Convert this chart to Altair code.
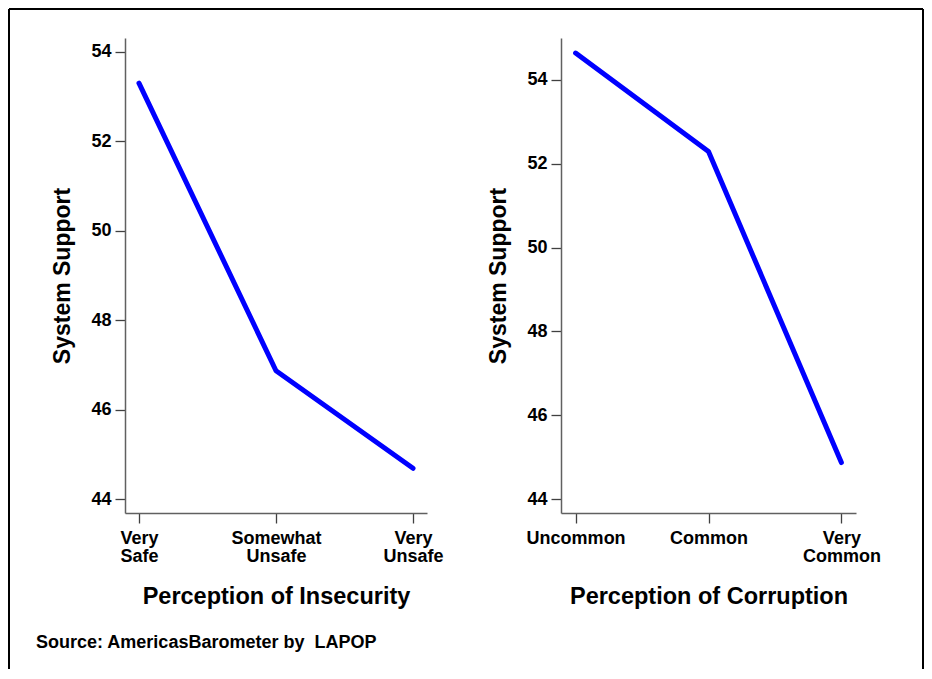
import altair as alt
import pandas as pd

# ---- data ----
insecurity_cats = ["Very Safe", "Somewhat Unsafe", "Very Unsafe"]
insecurity_vals = [53.30, 46.87, 44.69]

corruption_cats = ["Uncommon", "Common", "Very Common"]
corruption_vals = [54.64, 52.29, 44.87]

y_ticks = [44, 46, 48, 50, 52, 54]
source_text = "Source: AmericasBarometer by\u00a0 LAPOP"

FONT = "Liberation Sans"

left_df = pd.DataFrame({"cat": insecurity_cats, "val": insecurity_vals})
right_df = pd.DataFrame({"cat": corruption_cats, "val": corruption_vals})
one = pd.DataFrame({"a": [0]})


def x_axis(title):
    return alt.Axis(
        title=title,
        labelAngle=0,
        labelExpr="split(datum.label, ' ')",
        labelBaseline="top",
        labelPadding=6,
        labelLineHeight=18,
        labelFontSize=18,
        labelFontWeight="bold",
        labelColor="black",
        labelFont=FONT,
        tickSize=10,
        tickColor="#404040",
        tickWidth=1.3,
        domainColor="#606060",
        domainWidth=1.5,
        titleFontSize=23.5,
        titleFontWeight="bold",
        titleFont=FONT,
        titleColor="black",
        titleY=90,
        titleBaseline="alphabetic",
        grid=False,
    )


def y_axis(title):
    return alt.Axis(
        title=title,
        values=y_ticks,
        labelFontSize=18,
        labelFontWeight="bold",
        labelColor="black",
        labelFont=FONT,
        labelPadding=4,
        tickSize=10,
        tickColor="#404040",
        tickWidth=1.3,
        domainColor="#606060",
        domainWidth=1.5,
        titleFontSize=23,
        titleFontWeight="bold",
        titleFont=FONT,
        titleColor="black",
        titleAngle=270,
        titleX=-56,
        titleY=237.5,
        titleAlign="center",
        titleBaseline="alphabetic",
        grid=False,
    )


left_line = alt.Chart(left_df).mark_line(color="#0000FF", strokeWidth=5, strokeCap="round", strokeJoin="round").encode(
    x=alt.X("cat:N", sort=insecurity_cats,
            scale=alt.Scale(type="point", padding=0.102),
            axis=x_axis("Perception of Insecurity")),
    y=alt.Y("val:Q", scale=alt.Scale(domain=[43.69, 54.31], nice=False, zero=False),
            axis=y_axis("System Support")),
)

border_left = alt.Chart(one).mark_rule(color="black", strokeWidth=2).encode(
    x=alt.value(-116), y=alt.value(-29), y2=alt.value(631))
border_top = alt.Chart(one).mark_rule(color="black", strokeWidth=2).encode(
    x=alt.value(-116), x2=alt.value(798), y=alt.value(-29))
border_right = alt.Chart(one).mark_rule(color="black", strokeWidth=2).encode(
    x=alt.value(798), y=alt.value(-29), y2=alt.value(631))

source = alt.Chart(one).mark_text(
    text=source_text, align="left", baseline="alphabetic",
    fontSize=18, fontWeight="bold", font=FONT, color="black"
).encode(x=alt.value(-89), y=alt.value(610))

left = alt.layer(left_line, border_left, border_top, border_right, source).properties(width=302, height=475)

right = alt.Chart(right_df).mark_line(color="#0000FF", strokeWidth=5, strokeCap="round", strokeJoin="round").encode(
    x=alt.X("cat:N", sort=corruption_cats,
            scale=alt.Scale(type="point", padding=0.11),
            axis=x_axis("Perception of Corruption")),
    y=alt.Y("val:Q", scale=alt.Scale(domain=[43.666, 55.0], nice=False, zero=False),
            axis=y_axis("System Support")),
).properties(width=295, height=475)

chart = alt.hconcat(left, right, spacing=134, bounds="flush").configure_view(
    stroke=None
).properties(padding=0, background="white")

chart.save("out.html", embed_options={"renderer": "svg", "actions": False})
